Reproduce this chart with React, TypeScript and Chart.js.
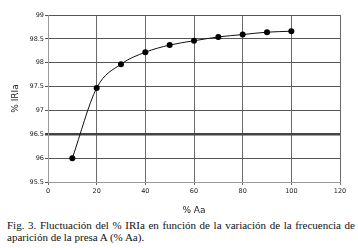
import React, { useEffect, useRef } from "react";
import { Chart, registerables } from "chart.js";

Chart.register(...registerables);

const xValues = [10, 20, 30, 40, 50, 60, 70, 80, 90, 100];
const iriaValues = [96.0, 97.47, 97.97, 98.22, 98.37, 98.46, 98.54, 98.59, 98.64, 98.66];
const xTitle = "% Aa";
const yTitle = "% IRIa";
const captionText =
  "Fig. 3. Fluctuación del % IRIa en función de la variación de la frecuencia de aparición de la presa A (% Aa).";

export default function App() {
  const ref = useRef<HTMLCanvasElement | null>(null);

  useEffect(() => {
    if (!ref.current) return;
    const chart = new Chart(ref.current, {
      type: "line",
      data: {
        datasets: [
          {
            data: xValues.map((x, i) => ({ x, y: iriaValues[i] })),
            borderColor: "#111",
            borderWidth: 1,
            backgroundColor: "#000",
            pointBackgroundColor: "#000",
            pointBorderColor: "#000",
            pointRadius: 3,
            pointBorderWidth: 0,
            cubicInterpolationMode: "monotone",
            fill: false,
          },
        ],
      },
      options: {
        animation: false,
        responsive: false,
        events: [],
        layout: { padding: { left: 0, right: 18, top: 15, bottom: 0 } },
        plugins: { legend: { display: false }, tooltip: { enabled: false } },
        scales: {
          x: {
            type: "linear",
            min: 0,
            max: 120,
            ticks: {
              stepSize: 20,
              padding: 2,
              color: "#222",
              font: { family: "DejaVu Sans", size: 6.5 },
              maxRotation: 0,
            },
            grid: { color: "#6a6a6a", lineWidth: 1, tickLength: 3 },
            border: { color: "#999", width: 1 },
            title: {
              display: true,
              text: xTitle,
              color: "#222",
              font: { family: "DejaVu Sans", size: 9 },
              padding: { top: 0, bottom: 0 },
            },
            afterFit: (s: any) => {
              s.height = 34;
            },
          },
          y: {
            type: "linear",
            min: 95.5,
            max: 99,
            ticks: {
              stepSize: 0.5,
              padding: 1,
              color: "#222",
              font: { family: "DejaVu Sans", size: 6.5 },
              callback: (v: any) => String(v),
            },
            grid: {
              color: (c: any) => (c.tick && c.tick.value === 96.5 ? "#444" : "#555"),
              lineWidth: (c: any) => (c.tick && c.tick.value === 96.5 ? 2.5 : 1),
              tickLength: 3,
            },
            border: { color: "#999", width: 1 },
            title: {
              display: true,
              text: yTitle,
              color: "#222",
              font: { family: "DejaVu Sans", size: 9 },
              padding: { top: 10.5, bottom: 0 },
            },
            afterFit: (s: any) => {
              s.width = 48;
            },
          },
        },
      },
    });
    return () => chart.destroy();
  }, []);

  return (
    <div
      style={{
        position: "absolute",
        left: 0,
        top: 0,
        width: 358,
        height: 248,
        background: "#fff",
        overflow: "hidden",
      }}
    >
      <canvas
        ref={ref}
        width={358}
        height={216}
        style={{ position: "absolute", left: 0, top: 0, width: 358, height: 216 }}
      />
      <div
        style={{
          position: "absolute",
          left: 7,
          top: 219,
          width: 348,
          fontFamily: "'Liberation Serif', serif",
          fontSize: 11,
          lineHeight: "12px",
          color: "#111",
          textAlign: "justify",
          textAlignLast: "left",
        }}
      >
        {captionText}
      </div>
    </div>
  );
}
